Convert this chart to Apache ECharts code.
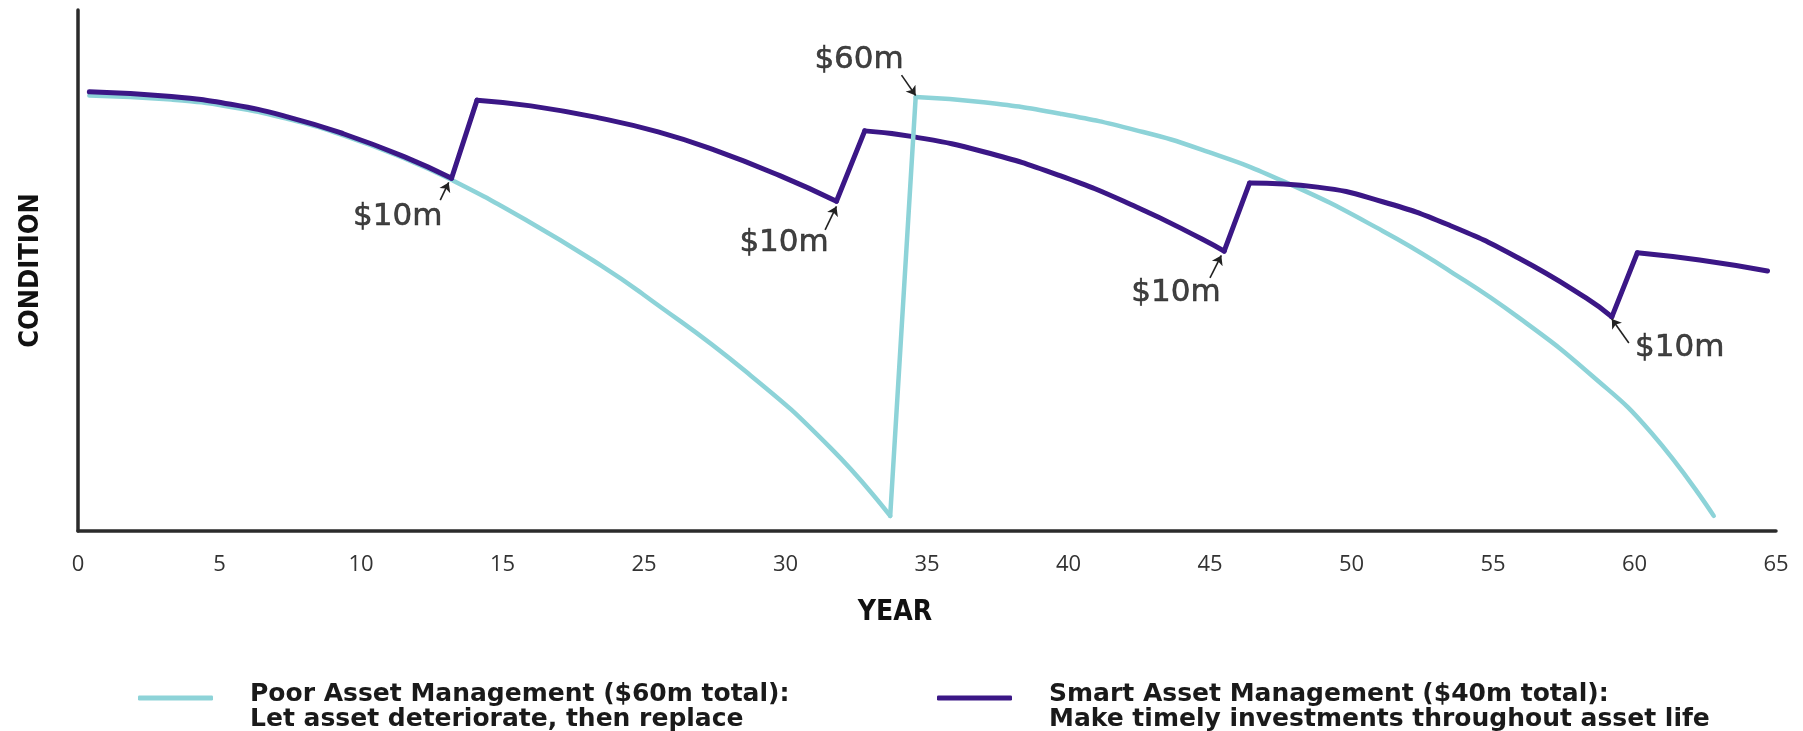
<!DOCTYPE html>
<html><head><meta charset="utf-8">
<script src="https://cdn.jsdelivr.net/npm/echarts@6/dist/echarts.min.js"></script>
<style>html,body{margin:0;padding:0;background:#fff}#c{width:1803px;height:731px}</style>
</head><body><div id="c"></div>
<script>
// x positions are in axis units: tick i sits at 5*i, labelled xTickLabels[i]
const xTickLabels = ['0','5','10','15','25','30','35','40','45','50','55','60','65'];

// Poor asset management: deterioration arcs (condition 0-100)
const poorArcs = [
  [[0.4,83.6],[3.3,82.8],[5.4,81.4],[7.4,79.1],[9.4,75.9],[11.5,71.6],[13.2,67.4],[15.8,59.8],[18.5,50.9],[20.0,45.3],[23.6,30.6],[26.6,15.9],[28.7,2.9]],
  [[29.6,83.3],[32.0,82.3],[34.7,80.1],[37.4,76.9],[39.7,73.2],[42.6,67.1],[46.1,57.6],[48.5,49.8],[50.9,41.0],[53.5,29.8],[55.6,18.8],[57.8,2.9]]
];
// Smart asset management: arcs between $10m investments
const smartArcs = [
  [[0.4,84.3],[3.3,83.4],[5.4,81.9],[7.4,79.5],[9.4,76.2],[11.5,71.9],[13.2,67.7]],
  [[14.1,82.7],[16.0,81.6],[18.4,79.3],[20.5,76.6],[22.5,73.1],[24.8,68.2],[26.8,63.3]],
  [[27.8,76.8],[29.5,75.7],[32.0,72.8],[34.7,68.2],[37.4,62.2],[39.7,56.1],[40.5,53.7]],
  [[41.4,66.8],[43.8,66.0],[46.1,63.2],[48.5,58.6],[50.9,52.4],[53.3,44.7],[54.2,41.1]],
  [[55.1,53.4],[57.3,52.0],[59.7,49.9]]
];

const seriesNames = ['Poor Asset Management ($60m total):', 'Smart Asset Management ($40m total):'];
const seriesSubtitles = ['Let asset deteriorate, then replace', 'Make timely investments throughout asset life'];
const seriesColors = ['#8dd3d8', '#3b1786'];

const annoLabels = ['$10m','$10m','$10m','$10m','$60m'];
const annoTextPos = [[11.3,60.2],[24.95,55.2],[38.8,45.6],[56.6,35.2],[27.6,90.4]];
const annoArrowFrom = [[12.8,63.5],[26.4,57.8],[40.0,48.6],[54.8,36.1],[29.1,87.5]];
const annoArrowTo = [[13.1,66.9],[26.8,62.3],[40.4,52.9],[54.2,40.7],[29.6,83.6]];

const BREAK = ['-','-'];
function joinArcs(arcs){
  const out = [];
  arcs.forEach((a,i)=>{ if(i) out.push(BREAK); a.forEach(p=>out.push(p)); });
  return out;
}
function jumps(arcs){
  const out = [];
  for(let i=0;i<arcs.length-1;i++){
    if(i) out.push(BREAK);
    out.push(arcs[i][arcs[i].length-1]); out.push(arcs[i+1][0]);
  }
  return out;
}
function lineSeries(name, color, width, data, smooth){
  return {
    name, type:'line', data, smooth, symbol:'none', connectNulls:false,
    color, lineStyle:{color, width, cap:'round', join:'miter'},
    itemStyle:{color}, z:smooth?3:4, silent:true
  };
}

const chart = echarts.init(document.getElementById('c'), null, {renderer:'canvas'});
const legendFont = {fontFamily:'DejaVu Sans', fontWeight:'bold', fontSize:25, lineHeight:25, color:'#1a1a1a'};
const legendBase = {
  orient:'horizontal', top:668, padding:0, itemWidth:75, itemHeight:5, icon:'roundRect',
  selectedMode:false,
  textStyle:{padding:[0,0,0,32], rich:{s:{fontSize:10, lineHeight:18}, t:legendFont}},
  formatter: n => '{s| }\n{t|' + n + '}\n{t|' + seriesSubtitles[seriesNames.indexOf(n)] + '}'
};
chart.setOption({
  animation:false,
  backgroundColor:'#ffffff',
  grid:{left:78, right:27, top:10, bottom:200},
  legend:[
    Object.assign({}, legendBase, {left:138, data:[seriesNames[0]]}),
    Object.assign({}, legendBase, {left:937, data:[seriesNames[1]]})
  ],
  xAxis:{
    type:'value', min:0, max:60, interval:5,
    name:'YEAR', nameLocation:'middle', nameGap:68,
    nameTextStyle:{fontFamily:'"DejaVu Sans Condensed","Liberation Sans Narrow","DejaVu Sans"', fontWeight:'bold', fontSize:28, color:'#111', padding:[0,64,0,0]},
    axisLine:{show:true, onZero:false, lineStyle:{color:'#2b2b2b', width:3.5}},
    axisTick:{show:false}, splitLine:{show:false},
    axisLabel:{show:true, margin:23, fontFamily:'"Open Sans"', fontSize:22, color:'#333',
      showMinLabel:true, showMaxLabel:true,
      formatter: v => xTickLabels[Math.round(v/5)] }
  },
  yAxis:{
    type:'value', min:0, max:100,
    name:'CONDITION', nameLocation:'middle', nameGap:34, nameRotate:90,
    nameTextStyle:{fontFamily:'"DejaVu Sans Condensed","Liberation Sans Narrow","DejaVu Sans"', fontWeight:'bold', fontSize:27, color:'#111'},
    axisLine:{show:true, lineStyle:{color:'#2b2b2b', width:3.5}},
    axisTick:{show:false}, axisLabel:{show:false}, splitLine:{show:false}
  },
  series:[
    lineSeries(seriesNames[0], seriesColors[0], 4.5, joinArcs(poorArcs), 0.5),
    lineSeries(seriesNames[0], seriesColors[0], 4.5, jumps(poorArcs), false),
    lineSeries(seriesNames[1], seriesColors[1], 5, joinArcs(smartArcs), 0.5),
    lineSeries(seriesNames[1], seriesColors[1], 5, jumps(smartArcs), false),
    {
      name:'arrows', type:'lines', coordinateSystem:'cartesian2d', silent:true, z:5,
      symbol:['none','arrow'], symbolSize:9,
      lineStyle:{color:'#222', width:1.6, curveness:0, opacity:1},
      data: annoArrowFrom.map((f,i)=>({coords:[f, annoArrowTo[i]]}))
    },
    {
      name:'labels', type:'scatter', symbolSize:0, silent:true, z:6,
      data: annoTextPos.map((p,i)=>({value:p, label:{formatter:annoLabels[i]}})),
      label:{show:true, position:'inside', fontFamily:'"DejaVu Sans"', fontSize:31, color:'#111',
        textBorderColor:'#111', textBorderWidth:0.6}
    }
  ]
});
</script></body></html>
